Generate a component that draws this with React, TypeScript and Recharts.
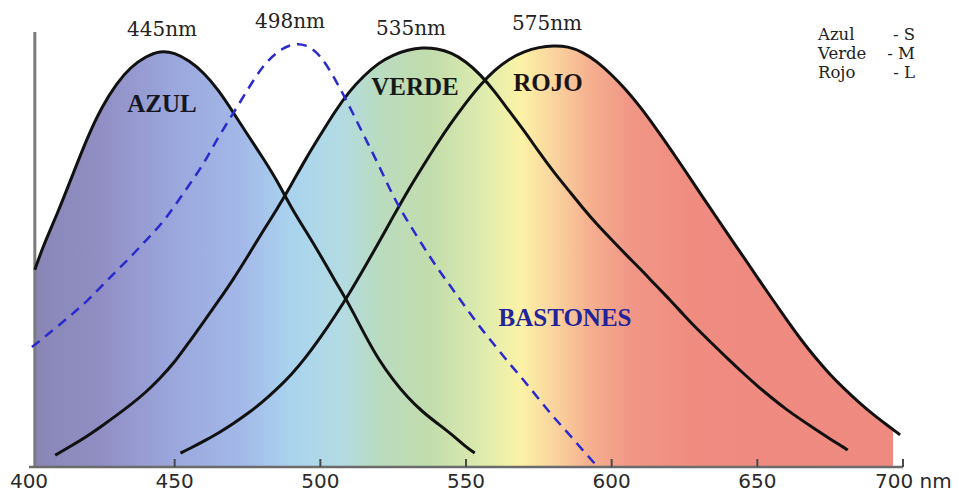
import { ComposedChart, Area, Line, XAxis, YAxis, ReferenceLine } from "recharts"

// wavelength ticks (nm)
const TICKS = [400, 450, 500, 550, 600, 650, 700]

// S cone (azul)
const S_NM = [402, 405, 410, 415, 420, 425, 430, 435, 440, 445, 450, 455, 460, 465, 470, 475, 480, 485, 490, 495, 500, 505, 510, 515, 520, 525, 530, 535, 540, 545, 550, 553]
const S_VAL = [46.7, 52.6, 60.4, 69.2, 78.0, 85.3, 90.8, 94.8, 97.2, 98.6, 98.1, 96.2, 93.4, 89.3, 84.1, 78.7, 73.5, 68.0, 61.4, 55.9, 50.2, 44.1, 38.4, 31.6, 25.4, 20.6, 16.4, 13.1, 10.4, 7.8, 4.7, 3.3]

// M cone (verde)
const M_NM = [409, 415, 420, 425, 430, 435, 440, 445, 450, 455, 460, 465, 470, 475, 480, 485, 490, 495, 500, 505, 510, 515, 520, 525, 530, 535, 540, 545, 550, 555, 560, 565, 570, 575, 580, 585, 590, 595, 600, 605, 610, 615, 620, 625, 630, 635, 640, 645, 650, 655, 660, 665, 670, 675, 680, 681]
const M_VAL = [2.8, 5.2, 7.3, 9.7, 12.2, 14.8, 17.6, 21.0, 24.8, 29.6, 34.4, 39.3, 44.3, 49.8, 55.5, 60.9, 66.8, 73.0, 78.6, 84.2, 89.0, 92.7, 95.7, 97.6, 98.8, 99.3, 99.1, 98.1, 96.0, 92.9, 88.8, 84.1, 79.6, 74.6, 69.9, 65.7, 61.4, 57.4, 53.8, 50.2, 46.8, 43.1, 39.6, 35.8, 32.2, 28.9, 25.5, 22.3, 19.2, 16.3, 13.6, 11.2, 8.9, 6.6, 4.5, 4.0]

// L cone (rojo)
const L_NM = [452, 455, 460, 465, 470, 475, 480, 485, 490, 495, 500, 505, 510, 515, 520, 525, 530, 535, 540, 545, 550, 555, 560, 565, 570, 575, 580, 585, 590, 595, 600, 605, 610, 615, 620, 625, 630, 635, 640, 645, 650, 655, 660, 665, 670, 675, 680, 685, 690, 695, 699]
const L_VAL = [3.3, 4.3, 6.1, 8.0, 10.2, 12.6, 15.3, 18.4, 21.8, 25.9, 30.6, 35.7, 41.1, 47.0, 53.1, 59.3, 65.4, 71.0, 76.5, 81.6, 86.3, 90.6, 94.1, 96.7, 98.4, 99.4, 99.8, 99.6, 98.3, 96.0, 92.9, 89.3, 85.1, 80.4, 75.5, 70.4, 65.2, 60.1, 55.0, 50.0, 44.9, 39.9, 34.9, 30.1, 25.8, 21.8, 18.4, 15.2, 12.3, 9.7, 7.6]

// rods (bastones)
const R_NM = [401, 405, 410, 415, 420, 425, 430, 435, 440, 445, 450, 455, 460, 465, 470, 475, 480, 485, 490, 495, 500, 505, 510, 515, 520, 525, 530, 535, 540, 545, 550, 555, 560, 565, 570, 575, 580, 585, 590, 595]
const R_VAL = [28.4, 30.6, 33.4, 36.3, 39.3, 42.9, 46.4, 49.8, 53.6, 57.1, 61.8, 66.8, 71.8, 78.2, 83.6, 89.3, 94.8, 98.3, 100.2, 100.2, 97.6, 92.0, 85.4, 78.4, 71.6, 64.0, 58.1, 52.6, 47.2, 42.5, 37.7, 32.9, 28.7, 24.4, 20.4, 16.1, 11.8, 8.1, 4.0, 0.2]

const PEAK_LABELS = ["445nm", "498nm", "535nm", "575nm"]
const CURVE_LABELS = ["AZUL", "VERDE", "ROJO", "BASTONES"]
const LEGEND_NAMES = ["Azul", "Verde", "Rojo"]
const LEGEND_CODES = ["S", "M", "L"]

const toPoints = (nm: number[], v: number[]) => nm.map((x, i) => ({ nm: x, v: v[i] }))

const sData = toPoints(S_NM, S_VAL)
const mData = toPoints(M_NM, M_VAL)
const lData = toPoints(L_NM, L_VAL)
const rData = toPoints(R_NM, R_VAL)

// spectrum stops [offset, color]
const SPECTRUM: [number, string][] = [
  [0, "#8986b6"],
  [0.075, "#918ec4"],
  [0.156, "#9aa6dc"],
  [0.236, "#a3b8e8"],
  [0.294, "#a9d3ee"],
  [0.351, "#b3dbe4"],
  [0.397, "#b9dbbf"],
  [0.455, "#c2dcac"],
  [0.513, "#dcebae"],
  [0.559, "#fbf3a6"],
  [0.599, "#fad39e"],
  [0.639, "#f5b08f"],
  [0.685, "#f19787"],
  [0.766, "#ef8b80"],
  [0.988, "#ef8a80"],
]

const W = 959
const H = 493

function NmTick(props: any) {
  const { x, y, payload } = props
  const v = payload.value
  const last = v === 700
  return (
    <g>
      {v !== 400 && <line x1={x} x2={x} y1={y - 8} y2={y} stroke="#4a4a4a" strokeWidth={2} />}
      <text
        x={last ? x - 28 : x}
        y={y + 21}
        textAnchor={last ? "start" : "middle"}
        fontFamily="DejaVu Sans"
        fontSize={20}
        fill="#2a2a2a"
      >
        {last ? "700 nm" : v}
      </text>
    </g>
  )
}

const peakPos = [
  [162, 36],
  [290, 28],
  [411, 35],
  [547, 30],
]
const curvePos = [
  [162, 112],
  [415, 95],
  [548, 91],
  [565, 326],
]
const curveColor = ["#161622", "#161a16", "#1c1414", "#23239a"]

export default function App() {
  return (
    <div style={{ position: "relative", width: W, height: H, background: "#fff" }}>
      <style>{"body{margin:0}"}</style>
      <ComposedChart width={W} height={H} margin={{ top: 32, right: 56, bottom: 0, left: 29 }}>
        <defs>
          <linearGradient id="spectrum" gradientUnits="userSpaceOnUse" x1={35} y1={0} x2={903} y2={0}>
            {SPECTRUM.map(([o, c]) => (
              <stop key={o} offset={o} stopColor={c} />
            ))}
            <stop offset={0.989} stopColor="#ffffff" stopOpacity={0} />
          </linearGradient>
        </defs>
        <XAxis
          type="number"
          dataKey="nm"
          domain={[400, 700]}
          ticks={TICKS}
          allowDataOverflow
          height={26}
          tickSize={0}
          tickMargin={0}
          tickLine={false}
          axisLine={{ stroke: "#6b6b6b", strokeWidth: 2.5 }}
          tick={<NmTick />}
          interval={0}
        />
        <YAxis type="number" domain={[0, 103]} hide />
        <Area data={sData} dataKey="v" type="basis" stroke="none" fill="url(#spectrum)" fillOpacity={1} isAnimationActive={false} />
        <Area data={mData} dataKey="v" type="basis" stroke="none" fill="url(#spectrum)" fillOpacity={1} isAnimationActive={false} />
        <Area data={lData} dataKey="v" type="basis" stroke="none" fill="url(#spectrum)" fillOpacity={1} isAnimationActive={false} />
        <ReferenceLine x={402} stroke="#7a7a7a" strokeWidth={3} />
        <Line data={sData} dataKey="v" type="basis" stroke="#111" strokeWidth={3} dot={false} isAnimationActive={false} />
        <Line data={mData} dataKey="v" type="basis" stroke="#111" strokeWidth={3} dot={false} isAnimationActive={false} />
        <Line data={lData} dataKey="v" type="basis" stroke="#111" strokeWidth={3} dot={false} isAnimationActive={false} />
        <Line data={rData} dataKey="v" type="basis" stroke="#2b2bcc" strokeWidth={2.5} strokeDasharray="10 7" dot={false} isAnimationActive={false} />
      </ComposedChart>
      <svg width={W} height={H} style={{ position: "absolute", left: 0, top: 0, pointerEvents: "none" }}>
        {PEAK_LABELS.map((t, i) => (
          <text key={t} x={peakPos[i][0]} y={peakPos[i][1]} textAnchor="middle" fontFamily="DejaVu Serif" fontSize={20} fill="#222">
            {t}
          </text>
        ))}
        {CURVE_LABELS.map((t, i) => (
          <text key={t} x={curvePos[i][0]} y={curvePos[i][1]} textAnchor="middle" fontFamily="Liberation Serif" fontWeight="bold" fontSize={25} fill={curveColor[i]}>
            {t}
          </text>
        ))}
        {LEGEND_NAMES.map((t, i) => (
          <g key={t} fontFamily="DejaVu Serif" fontSize={16.5} fill="#222">
            <text x={818} y={40 + i * 19}>{t}</text>
            <text x={915} y={40 + i * 19} textAnchor="end">{"- " + LEGEND_CODES[i]}</text>
          </g>
        ))}
      </svg>
    </div>
  )
}
